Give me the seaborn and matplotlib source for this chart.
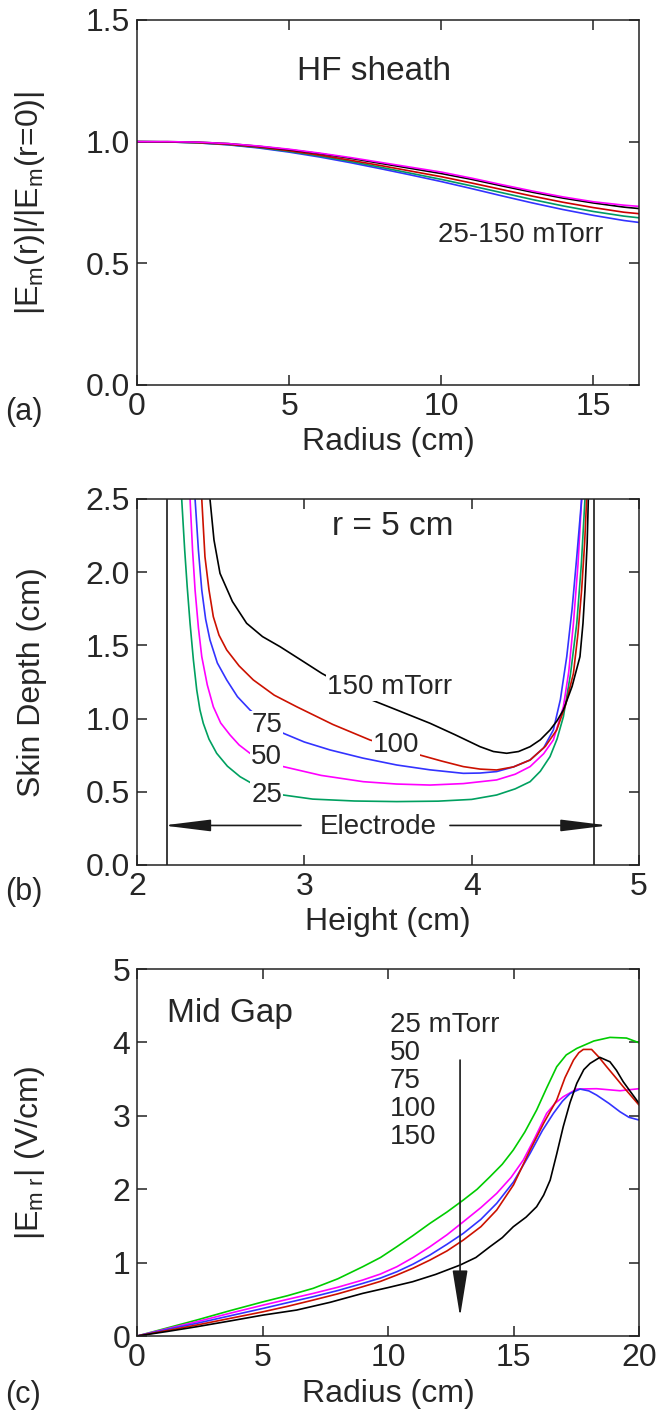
import numpy as np
import pandas as pd
import matplotlib
matplotlib.use("Agg")
import matplotlib.pyplot as plt
import seaborn as sns

# ---------------- data ----------------
# (a) HF sheath: normalized field vs radius
radius_a = [0, 1, 2, 3, 4, 5, 6, 7, 8, 9, 10, 11, 12, 13, 14, 15, 16, 16.5]
a_magenta = [1.000, 1.000, 0.998, 0.992, 0.982, 0.969, 0.953, 0.935, 0.915, 0.895, 0.875, 0.850, 0.823, 0.797, 0.773, 0.753, 0.739, 0.734]
a_black = [1.000, 1.000, 0.998, 0.992, 0.981, 0.967, 0.951, 0.932, 0.911, 0.890, 0.869, 0.845, 0.818, 0.792, 0.768, 0.748, 0.731, 0.725]
a_red = [1.000, 0.999, 0.996, 0.989, 0.978, 0.963, 0.945, 0.924, 0.902, 0.879, 0.856, 0.830, 0.803, 0.776, 0.751, 0.729, 0.710, 0.704]
a_green = [1.000, 0.999, 0.995, 0.988, 0.976, 0.960, 0.941, 0.919, 0.895, 0.870, 0.845, 0.818, 0.790, 0.762, 0.736, 0.713, 0.694, 0.687]
a_blue = [1.000, 0.999, 0.995, 0.987, 0.974, 0.957, 0.937, 0.914, 0.889, 0.863, 0.836, 0.807, 0.777, 0.748, 0.721, 0.697, 0.676, 0.668]

# (b) skin depth vs height at r = 5 cm
b25_h = [2.267, 2.285, 2.300, 2.317, 2.337, 2.357, 2.376, 2.396, 2.43, 2.476, 2.54, 2.616, 2.72, 2.874, 3.05, 3.30, 3.552, 3.80, 4.00, 4.149, 4.26, 4.349, 4.41, 4.468, 4.51, 4.548, 4.59, 4.628, 4.655, 4.677]
b25_d = [2.50, 2.15, 1.90, 1.651, 1.40, 1.195, 1.06, 0.968, 0.86, 0.763, 0.675, 0.603, 0.535, 0.478, 0.45, 0.437, 0.433, 0.436, 0.448, 0.478, 0.52, 0.569, 0.64, 0.740, 0.86, 1.013, 1.30, 1.651, 2.05, 2.50]
b50_h = [2.317, 2.332, 2.347, 2.367, 2.387, 2.42, 2.456, 2.50, 2.556, 2.61, 2.675, 2.77, 2.874, 3.1, 3.352, 3.55, 3.751, 3.95, 4.149, 4.26, 4.349, 4.43, 4.488, 4.548, 4.58, 4.608, 4.635, 4.657]
b50_d = [2.50, 2.15, 1.878, 1.62, 1.423, 1.23, 1.081, 0.97, 0.888, 0.82, 0.763, 0.71, 0.672, 0.612, 0.569, 0.553, 0.546, 0.556, 0.581, 0.62, 0.672, 0.76, 0.854, 1.081, 1.32, 1.651, 2.05, 2.50]
b75_h = [2.347, 2.367, 2.387, 2.41, 2.436, 2.48, 2.536, 2.60, 2.675, 2.77, 2.874, 3.0, 3.153, 3.35, 3.552, 3.75, 3.950, 4.05, 4.149, 4.25, 4.349, 4.43, 4.488, 4.53, 4.568, 4.60, 4.628, 4.657]
b75_d = [2.50, 2.15, 1.878, 1.68, 1.537, 1.38, 1.264, 1.15, 1.059, 0.97, 0.900, 0.84, 0.786, 0.73, 0.683, 0.65, 0.626, 0.628, 0.638, 0.67, 0.717, 0.80, 0.922, 1.13, 1.423, 1.75, 2.106, 2.50]
b100_h = [2.387, 2.406, 2.43, 2.456, 2.49, 2.536, 2.61, 2.695, 2.82, 2.954, 3.17, 3.392, 3.55, 3.691, 3.82, 3.950, 4.05, 4.149, 4.25, 4.349, 4.44, 4.508, 4.56, 4.608, 4.635, 4.657, 4.675, 4.687]
b100_d = [2.50, 2.106, 1.88, 1.696, 1.57, 1.469, 1.36, 1.264, 1.16, 1.081, 0.96, 0.854, 0.80, 0.751, 0.71, 0.672, 0.655, 0.649, 0.67, 0.717, 0.81, 0.922, 1.09, 1.309, 1.58, 1.878, 2.20, 2.50]
b150_h = [2.436, 2.46, 2.496, 2.57, 2.655, 2.75, 2.855, 2.98, 3.104, 3.23, 3.352, 3.55, 3.751, 3.90, 4.050, 4.13, 4.209, 4.28, 4.349, 4.41, 4.468, 4.51, 4.548, 4.60, 4.647, 4.665, 4.677, 4.69, 4.697]
b150_d = [2.50, 2.22, 1.992, 1.80, 1.651, 1.56, 1.491, 1.40, 1.309, 1.23, 1.150, 1.06, 0.968, 0.89, 0.808, 0.775, 0.763, 0.775, 0.808, 0.855, 0.922, 0.985, 1.059, 1.22, 1.423, 1.65, 1.878, 2.20, 2.50]
electrode_left = 2.18
electrode_right = 4.73

# (c) mid-gap radial field vs radius
c25_r = [0, 1.2, 2.38, 3.7, 5.03, 6.0, 7.02, 8.0, 8.99, 9.7, 10.35, 11.0, 11.67, 12.35, 13.0, 13.55, 14.06, 14.55, 14.99, 15.45, 15.92, 16.32, 16.72, 17.1, 17.52, 18.2, 18.84, 19.5, 20.0]
c25_e = [0, 0.11, 0.218, 0.345, 0.467, 0.55, 0.650, 0.78, 0.944, 1.07, 1.217, 1.37, 1.535, 1.69, 1.853, 2.0, 2.170, 2.34, 2.534, 2.78, 3.079, 3.38, 3.669, 3.83, 3.919, 4.02, 4.069, 4.060, 3.996]
c50_r = [0, 1.2, 2.38, 3.7, 5.03, 6.0, 7.02, 8.0, 8.99, 9.7, 10.35, 11.0, 11.67, 12.35, 13.0, 13.7, 14.33, 14.9, 15.39, 15.85, 16.32, 16.65, 16.98, 17.52, 18.31, 19.24, 20.0]
c50_e = [0, 0.10, 0.195, 0.31, 0.422, 0.50, 0.581, 0.665, 0.763, 0.845, 0.944, 1.07, 1.217, 1.38, 1.557, 1.75, 1.944, 2.16, 2.398, 2.70, 3.034, 3.17, 3.260, 3.365, 3.370, 3.342, 3.370]
c75_r = [0, 1.2, 2.38, 3.7, 5.03, 6.0, 7.02, 8.0, 8.99, 9.7, 10.35, 11.0, 11.67, 12.35, 13.0, 13.7, 14.33, 15.0, 15.66, 16.15, 16.59, 16.95, 17.26, 17.65, 18.0, 18.31, 18.8, 19.24, 19.6, 20.0]
c75_e = [0, 0.09, 0.173, 0.275, 0.377, 0.455, 0.536, 0.62, 0.717, 0.79, 0.876, 0.98, 1.104, 1.25, 1.399, 1.59, 1.808, 2.10, 2.489, 2.80, 3.034, 3.20, 3.306, 3.365, 3.34, 3.283, 3.17, 3.056, 2.98, 2.943]
c100_r = [0, 1.2, 2.38, 3.7, 5.03, 6.0, 7.02, 8.0, 8.99, 9.7, 10.35, 11.0, 11.67, 12.35, 13.0, 13.7, 14.33, 15.0, 15.66, 16.2, 16.72, 17.05, 17.39, 17.6, 17.78, 18.11, 18.4, 18.71, 19.05, 19.37, 20.0]
c100_e = [0, 0.075, 0.150, 0.24, 0.331, 0.405, 0.490, 0.575, 0.672, 0.745, 0.831, 0.925, 1.035, 1.16, 1.308, 1.49, 1.717, 2.06, 2.534, 2.90, 3.215, 3.52, 3.760, 3.86, 3.905, 3.905, 3.80, 3.669, 3.53, 3.397, 3.147]
c150_r = [0, 1.2, 2.38, 3.7, 5.03, 6.36, 7.7, 8.99, 10.0, 10.98, 11.9, 12.87, 13.5, 14.06, 14.55, 14.99, 15.5, 15.92, 16.2, 16.46, 16.72, 16.98, 17.25, 17.52, 17.8, 18.05, 18.44, 18.84, 19.1, 19.37, 19.7, 20.0]
c150_e = [0, 0.062, 0.127, 0.205, 0.286, 0.354, 0.46, 0.581, 0.66, 0.740, 0.84, 0.967, 1.07, 1.217, 1.34, 1.489, 1.62, 1.762, 1.92, 2.125, 2.48, 2.852, 3.18, 3.443, 3.63, 3.715, 3.797, 3.737, 3.62, 3.465, 3.31, 3.170]
pressure_list = ["25 mTorr", "50", "75", "100", "150"]

# ---------------- style ----------------
sns.set_theme(style="ticks")
plt.rcParams["font.family"] = ["Liberation Sans", "DejaVu Sans"]
plt.rcParams["mathtext.fontset"] = "custom"
plt.rcParams["mathtext.rm"] = "Liberation Sans"
plt.rcParams["mathtext.it"] = "Liberation Sans"
plt.rcParams["mathtext.default"] = "regular"
plt.rcParams["axes.linewidth"] = 1.1
plt.rcParams["axes.edgecolor"] = "#222222"

TICK = 23
LAB = 23
LW = 1.2

fig = plt.figure(figsize=(6.59, 14.18), dpi=100)
L, W = 0.2079, 0.7618
ax_a = fig.add_axes([L, 0.7285, W, 0.2574])
ax_b = fig.add_axes([L, 0.3900, W, 0.2581])
ax_c = fig.add_axes([L, 0.0578, W, 0.2588])


def style_axis(ax):
    ax.tick_params(which="major", direction="in", length=7, width=1.1,
                   top=True, right=True, labelsize=TICK, pad=5, color="#222222")
    for s in ax.spines.values():
        s.set_visible(True)
        s.set_color("#222222")


def draw(ax, x, y, color):
    df = pd.DataFrame({"x": x, "y": y})
    sns.lineplot(data=df, x="x", y="y", ax=ax, color=color, lw=LW,
                 sort=False, estimator=None, legend=False)


# ---- (a) ----
for y, c in [(a_blue, "#3333ff"), (a_green, "#009966"), (a_red, "#cc0000"),
             (a_black, "#000000"), (a_magenta, "#ff00ff")]:
    draw(ax_a, radius_a, y, c)
ax_a.set_xlim(0, 16.5)
ax_a.set_ylim(0, 1.5)
ax_a.set_xticks([0, 5, 10, 15])
ax_a.set_yticks([0, 0.5, 1.0, 1.5])
ax_a.set_yticklabels(["0.0", "0.5", "1.0", "1.5"])
ax_a.set_xlabel("Radius (cm)", fontsize=LAB)
ax_a.set_ylabel("|E$_{m}$(r)|/|E$_{m}$(r=0)|", fontsize=LAB)
ax_a.text(7.8, 1.29, "HF sheath", fontsize=24, ha="center", va="center")
ax_a.text(12.6, 0.615, "25-150 mTorr", fontsize=20, ha="center", va="center")
style_axis(ax_a)

# ---- (b) ----
for h, d, c in [(b25_h, b25_d, "#00a060"), (b50_h, b50_d, "#ff00ff"),
                (b75_h, b75_d, "#3333ff"), (b100_h, b100_d, "#cc1100"),
                (b150_h, b150_d, "#000000")]:
    draw(ax_b, h, d, c)
ax_b.axvline(electrode_left, color="k", lw=LW)
ax_b.axvline(electrode_right, color="k", lw=LW)
ax_b.set_xlim(2, 5)
ax_b.set_ylim(0, 2.5)
ax_b.set_xticks([2, 3, 4, 5])
ax_b.set_yticks([0, 0.5, 1.0, 1.5, 2.0, 2.5])
ax_b.set_yticklabels(["0.0", "0.5", "1.0", "1.5", "2.0", "2.5"])
ax_b.set_xlabel("Height (cm)", fontsize=LAB)
ax_b.set_ylabel("Skin Depth (cm)", fontsize=LAB)
bb = dict(fc="white", ec="none", pad=0.5)
ax_b.text(3.53, 2.31, "r = 5 cm", fontsize=24, ha="center", va="center")
ax_b.text(3.51, 1.218, "150 mTorr", fontsize=20, ha="center", va="center", bbox=bb, zorder=5)
ax_b.text(3.55, 0.82, "100", fontsize=20, ha="center", va="center", bbox=bb, zorder=5)
ax_b.text(2.775, 0.956, "75", fontsize=20, ha="center", va="center", bbox=bb, zorder=5)
ax_b.text(2.775, 0.74, "50", fontsize=20, ha="center", va="center", bbox=bb, zorder=5)
ax_b.text(2.775, 0.478, "25", fontsize=20, ha="center", va="center", bbox=bb, zorder=5)
ax_b.text(3.44, 0.262, "Electrode", fontsize=20, ha="center", va="center")
ap = dict(arrowstyle="-|>,head_length=2.9,head_width=0.36", color="k", lw=LW,
          shrinkA=0, shrinkB=0, mutation_scale=10)
ax_b.annotate("", xy=(2.157, 0.27), xytext=(2.98, 0.27), arrowprops=ap)
ax_b.annotate("", xy=(4.815, 0.27), xytext=(3.87, 0.27), arrowprops=ap,
              annotation_clip=False)
style_axis(ax_b)

# ---- (c) ----
for r, e, c in [(c25_r, c25_e, "#00cc00"), (c50_r, c50_e, "#ff00ff"),
                (c75_r, c75_e, "#3333ff"), (c100_r, c100_e, "#cc1100"),
                (c150_r, c150_e, "#000000")]:
    draw(ax_c, r, e, c)
ax_c.set_xlim(0, 20)
ax_c.set_ylim(0, 5)
ax_c.set_xticks([0, 5, 10, 15, 20])
ax_c.set_yticks([0, 1, 2, 3, 4, 5])
ax_c.set_xlabel("Radius (cm)", fontsize=LAB)
ax_c.set_ylabel("|E$_{m\\ r}$| (V/cm)", fontsize=LAB)
ax_c.text(3.7, 4.4, "Mid Gap", fontsize=24, ha="center", va="center")
for i, s in enumerate(pressure_list):
    ax_c.text(10.08, 4.24 - 0.383 * i, s, fontsize=20, ha="left", va="center")
apc = dict(arrowstyle="-|>,head_length=2.9,head_width=0.47", color="k", lw=LW,
           shrinkA=0, shrinkB=0, mutation_scale=10)
ax_c.annotate("", xy=(12.87, 0.263), xytext=(12.87, 3.76), arrowprops=apc)
style_axis(ax_c)

for ax in (ax_a, ax_b, ax_c):
    ax.yaxis.set_label_coords(-0.18, 0.5)

fig.text(0.008, 1 - 412 / 1418, "(a)", fontsize=22, ha="left", va="center")
fig.text(0.008, 1 - 892 / 1418, "(b)", fontsize=22, ha="left", va="center")
fig.text(0.008, 1 - 1395 / 1418, "(c)", fontsize=22, ha="left", va="center")

fig.savefig("out.png", dpi=100, facecolor="white")
